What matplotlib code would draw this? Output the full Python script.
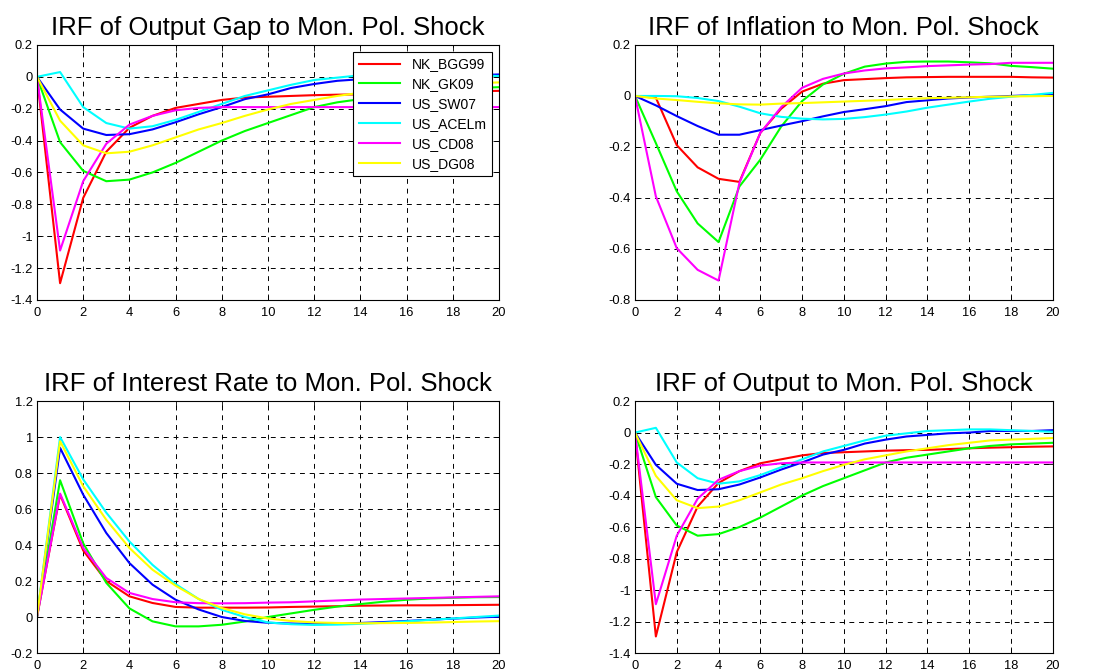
import matplotlib
matplotlib.use('Agg')
import matplotlib.pyplot as plt
import numpy as np
from matplotlib.ticker import FormatStrFormatter

plt.rcParams['font.family'] = ['Liberation Sans', 'DejaVu Sans']
plt.rcParams['axes.unicode_minus'] = False

# horizon (quarters)
horizon = np.arange(21)
models = ['NK_BGG99', 'NK_GK09', 'US_SW07', 'US_ACELm', 'US_CD08', 'US_DG08']
colors = ['#ff0000', '#00ff00', '#0000ff', '#00ffff', '#ff00ff', '#ffff00']

# output gap responses (output response is the same)
gap_bgg99 = [0, -1.295, -0.76, -0.47, -0.32, -0.245, -0.195, -0.17, -0.145, -0.13, -0.125,
             -0.12, -0.115, -0.112, -0.11, -0.105, -0.1, -0.096, -0.093, -0.09, -0.088]
gap_gk09 = [0, -0.41, -0.59, -0.655, -0.645, -0.60, -0.54, -0.47, -0.40, -0.34, -0.29,
            -0.24, -0.19, -0.16, -0.14, -0.12, -0.10, -0.085, -0.075, -0.07, -0.065]
gap_sw07 = [0, -0.205, -0.325, -0.365, -0.36, -0.33, -0.285, -0.235, -0.19, -0.14, -0.11,
            -0.07, -0.045, -0.025, -0.015, -0.005, 0.0, 0.01, 0.01, 0.01, 0.015]
gap_acelm = [0, 0.03, -0.19, -0.29, -0.325, -0.31, -0.27, -0.22, -0.17, -0.12, -0.085,
             -0.05, -0.02, -0.005, 0.01, 0.015, 0.02, 0.02, 0.015, 0.01, 0.005]
gap_cd08 = [0, -1.09, -0.655, -0.42, -0.30, -0.245, -0.21, -0.195, -0.19, -0.19, -0.19,
            -0.19, -0.19, -0.19, -0.19, -0.19, -0.19, -0.19, -0.19, -0.19, -0.19]
gap_dg08 = [0, -0.275, -0.43, -0.48, -0.47, -0.43, -0.38, -0.33, -0.29, -0.245, -0.205,
            -0.17, -0.145, -0.12, -0.10, -0.08, -0.065, -0.05, -0.045, -0.04, -0.035]

# inflation responses
inf_bgg99 = [0, -0.007, -0.193, -0.28, -0.325, -0.337, -0.145, -0.05, 0.017, 0.048, 0.062,
             0.066, 0.07, 0.073, 0.074, 0.075, 0.075, 0.075, 0.075, 0.073, 0.072]
inf_gk09 = [0, -0.185, -0.374, -0.50, -0.573, -0.355, -0.25, -0.12, -0.02, 0.045, 0.087,
            0.115, 0.127, 0.134, 0.135, 0.135, 0.132, 0.128, 0.118, 0.113, 0.107]
inf_sw07 = [0, -0.037, -0.079, -0.118, -0.152, -0.152, -0.134, -0.116, -0.099, -0.08, -0.063,
            -0.052, -0.04, -0.024, -0.017, -0.01, -0.006, -0.003, 0.0, 0.003, 0.005]
inf_acelm = [0, 0.0, -0.001, -0.008, -0.02, -0.042, -0.068, -0.082, -0.089, -0.092, -0.09,
             -0.083, -0.073, -0.061, -0.046, -0.034, -0.022, -0.011, -0.003, 0.004, 0.012]
inf_cd08 = [0, -0.394, -0.597, -0.682, -0.724, -0.341, -0.145, -0.044, 0.032, 0.067, 0.088,
            0.1, 0.108, 0.112, 0.117, 0.12, 0.123, 0.125, 0.13, 0.13, 0.13]
inf_dg08 = [0, -0.01, -0.016, -0.023, -0.029, -0.033, -0.034, -0.03, -0.028, -0.025, -0.022,
            -0.019, -0.016, -0.012, -0.009, -0.007, -0.005, -0.003, -0.002, -0.001, 0.0]

# interest rate responses
ir_bgg99 = [0, 0.68, 0.37, 0.2, 0.115, 0.078, 0.056, 0.052, 0.052, 0.052, 0.053,
            0.056, 0.058, 0.06, 0.063, 0.064, 0.065, 0.065, 0.066, 0.067, 0.068]
ir_gk09 = [0, 0.76, 0.41, 0.19, 0.048, -0.024, -0.052, -0.052, -0.043, -0.025, 0.0,
           0.02, 0.04, 0.058, 0.072, 0.085, 0.096, 0.103, 0.107, 0.11, 0.111]
ir_sw07 = [0, 0.94, 0.68, 0.467, 0.30, 0.18, 0.096, 0.042, 0.0, -0.022, -0.032,
           -0.036, -0.038, -0.036, -0.033, -0.028, -0.022, -0.015, -0.009, -0.003, 0.002]
ir_acelm = [0, 1.0, 0.765, 0.58, 0.42, 0.29, 0.183, 0.1, 0.04, 0.0, -0.03,
            -0.04, -0.044, -0.042, -0.038, -0.032, -0.024, -0.016, -0.008, 0.0, 0.008]
ir_cd08 = [0, 0.686, 0.384, 0.217, 0.134, 0.1, 0.082, 0.077, 0.076, 0.077, 0.08,
           0.082, 0.087, 0.092, 0.097, 0.1, 0.103, 0.106, 0.109, 0.112, 0.115]
ir_dg08 = [0, 0.977, 0.727, 0.54, 0.384, 0.263, 0.174, 0.1, 0.05, 0.015, -0.008,
           -0.022, -0.03, -0.033, -0.035, -0.034, -0.033, -0.031, -0.028, -0.025, -0.023]

panels = [
    ('IRF of Output Gap to Mon. Pol. Shock',
     [gap_bgg99, gap_gk09, gap_sw07, gap_acelm, gap_cd08, gap_dg08], (-1.4, 0.2)),
    ('IRF of Inflation to Mon. Pol. Shock',
     [inf_bgg99, inf_gk09, inf_sw07, inf_acelm, inf_cd08, inf_dg08], (-0.8, 0.2)),
    ('IRF of Interest Rate to Mon. Pol. Shock',
     [ir_bgg99, ir_gk09, ir_sw07, ir_acelm, ir_cd08, ir_dg08], (-0.2, 1.2)),
    ('IRF of Output to Mon. Pol. Shock',
     [gap_bgg99, gap_gk09, gap_sw07, gap_acelm, gap_cd08, gap_dg08], (-1.4, 0.2)),
]

# axes rectangles in figure fractions (left, bottom, width, height)
rects = [
    (0.0332, 0.553, 0.4147, 0.380),
    (0.570, 0.553, 0.375, 0.380),
    (0.0332, 0.0268, 0.4147, 0.3755),
    (0.570, 0.0268, 0.375, 0.3755),
]

fig = plt.figure(figsize=(11.14, 6.71), dpi=100)

for i, ((title, series, ylim), rect) in enumerate(zip(panels, rects)):
    ax = fig.add_axes(rect)
    for vals, name, c in zip(series, models, colors):
        ax.plot(horizon, vals, color=c, lw=1.5, label=name)
    ax.set_xlim(0, 20)
    ax.set_ylim(*ylim)
    ax.set_xticks(np.arange(0, 21, 2))
    ax.set_yticks(np.round(np.arange(ylim[0], ylim[1] + 0.001, 0.2), 1) + 0.0)
    ax.yaxis.set_major_formatter(FormatStrFormatter('%g'))
    ax.grid(True, color='black', linestyle=(0, (5, 5)), lw=0.7)
    ax.tick_params(direction='in', top=True, right=True, labelsize=9.3, length=4, width=0.6)
    ax.tick_params(axis='x', pad=5)
    ax.tick_params(axis='y', pad=3)
    for s in ax.spines.values():
        s.set_linewidth(0.8)
    ax.set_title(title, fontsize=18.5, pad=7)
    if i == 0:
        leg = ax.legend(loc='upper right', fontsize=10, fancybox=False, framealpha=1,
                        edgecolor='black', handlelength=3.0, borderaxespad=0.5,
                        labelspacing=0.42, borderpad=0.4)
        leg.get_frame().set_linewidth(0.8)

fig.savefig('out.png', dpi=100)
